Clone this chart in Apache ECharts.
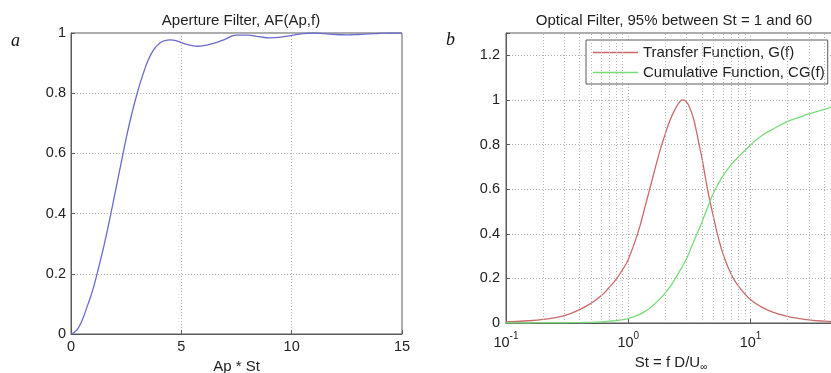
<!DOCTYPE html>
<html>
<head>
<meta charset="utf-8">
<script src="https://cdn.jsdelivr.net/npm/echarts@6/dist/echarts.min.js"></script>
<style>
  html, body { margin: 0; padding: 0; background: #fff; }
  #chart { width: 831px; height: 373px; }
</style>
</head>
<body>
<div id="chart"></div>
<script>
// Panel a: aperture filter response against Ap*St
const apSt = [0, 0.25, 0.5, 0.75, 1.0, 1.25, 1.5, 1.75, 2.0, 2.25, 2.5, 2.75, 3.0, 3.25, 3.5, 3.75,
  4.0, 4.25, 4.5, 4.75, 5.0, 5.25, 5.5, 5.75, 6.0, 6.5, 7.0, 7.5, 8.0, 8.5, 9.0, 9.5, 10, 10.5,
  11, 11.5, 12, 12.5, 13, 13.5, 14, 14.5, 15];
const apertureAF = [0, 0.012, 0.045, 0.095, 0.15, 0.22, 0.295, 0.38, 0.47, 0.56, 0.65, 0.73, 0.8,
  0.86, 0.91, 0.945, 0.965, 0.975, 0.977, 0.975, 0.968, 0.962, 0.958, 0.956, 0.958, 0.966, 0.98,
  0.993, 0.993, 0.988, 0.984, 0.986, 0.992, 0.998, 1.0, 0.998, 0.995, 0.994, 0.995, 0.997, 0.999,
  1.0, 1.0];

// Panel b: optical filter transfer and cumulative functions against Strouhal number
const strouhal = [0.1, 0.15, 0.2, 0.3, 0.4, 0.5, 0.6, 0.7, 0.8, 0.9, 1.0, 1.2, 1.4, 1.6, 1.8, 2.0,
  2.2, 2.4, 2.6, 2.8, 3.0, 3.2, 3.4, 3.6, 3.8, 4.0, 4.25, 4.5, 5.0, 5.5, 6, 7, 8, 9, 10, 12, 15,
  20, 25, 30, 40, 50];
const transferG = [0.005, 0.01, 0.016, 0.033, 0.06, 0.09, 0.122, 0.16, 0.198, 0.24, 0.285, 0.405,
  0.54, 0.66, 0.765, 0.845, 0.91, 0.955, 0.987, 1.0, 0.99, 0.962, 0.92, 0.862, 0.80, 0.74, 0.66,
  0.585, 0.47, 0.375, 0.305, 0.215, 0.164, 0.13, 0.105, 0.075, 0.05, 0.03, 0.02, 0.014, 0.008, 0.005];
const cumulativeCG = [0, 0, 0.0005, 0.001, 0.002, 0.003, 0.005, 0.008, 0.011, 0.015, 0.02, 0.035,
  0.055, 0.08, 0.106, 0.134, 0.163, 0.195, 0.228, 0.258, 0.288, 0.325, 0.36, 0.392, 0.422, 0.452,
  0.49, 0.525, 0.585, 0.628, 0.663, 0.712, 0.746, 0.773, 0.798, 0.835, 0.867, 0.903, 0.922, 0.937,
  0.958, 0.972];

// Minor decade positions for the log grid
const logMinorGrid = [0.2, 0.3, 0.4, 0.5, 0.6, 0.7, 0.8, 0.9, 2, 3, 4, 5, 6, 7, 8, 9, 20, 30, 40];

const FONT = 'Liberation Sans, Arial, sans-serif';
const TXT = '#222';
const frameColor = '#5a5a5a';
const gridLine = { show: true, lineStyle: { color: '#b4b4b4', width: 1, type: [1, 2] } };
const tickLabel = { color: TXT, fontSize: 14.5, fontFamily: FONT };
const colorG = '#cc6a6a';
const colorCG = '#78dc78';

const chart = echarts.init(document.getElementById('chart'), null, { renderer: 'canvas' });

chart.setOption({
  animation: false,
  backgroundColor: '#fff',
  textStyle: { fontFamily: FONT },
  title: [
    { text: 'Aperture Filter, AF(Ap,f)', left: 236, top: 8, textAlign: 'center',
      textStyle: { fontSize: 15, fontWeight: 'normal', color: TXT, fontFamily: FONT } },
    { text: 'Optical Filter, 95% between St = 1 and 60', left: 669, top: 8, textAlign: 'center',
      textStyle: { fontSize: 15, fontWeight: 'normal', color: TXT, fontFamily: FONT } }
  ],
  graphic: [
    { type: 'text', left: 11, top: 32,
      style: { text: 'a', font: 'italic 18px "Liberation Serif", "DejaVu Serif", serif', fill: '#111' } },
    { type: 'text', left: 446, top: 31,
      style: { text: 'b', font: 'italic 18px "Liberation Serif", "DejaVu Serif", serif', fill: '#111' } }
  ],
  legend: {
    orient: 'vertical',
    left: 586, top: 40,
    data: [
      { name: 'Transfer Function, G(f)', icon: 'rect', itemStyle: { color: colorG } },
      { name: 'Cumulative Function, CG(f)', icon: 'rect', itemStyle: { color: colorCG } }
    ],
    backgroundColor: '#fff',
    borderColor: frameColor, borderWidth: 1,
    padding: [5, 3, 4, 7],
    itemWidth: 45, itemHeight: 1.5, itemGap: 5,
    textStyle: { fontSize: 15, color: TXT, fontFamily: FONT }
  },
  grid: [
    { left: 71, right: 429, top: 33, bottom: 39, show: true, borderColor: frameColor, borderWidth: 1,
      backgroundColor: 'transparent', containLabel: false, outerBoundsMode: 'none' },
    { left: 506, right: -5, top: 33, bottom: 50, show: true, borderColor: frameColor, borderWidth: 1,
      backgroundColor: 'transparent', containLabel: false, outerBoundsMode: 'none' }
  ],
  xAxis: [
    { gridIndex: 0, type: 'value', min: 0, max: 15, interval: 5,
      axisLine: { show: true, onZero: false, lineStyle: { color: frameColor } },
      axisTick: { show: true, inside: true, length: 4, lineStyle: { color: frameColor } },
      axisLabel: Object.assign({ margin: 5 }, tickLabel),
      splitLine: gridLine,
      name: 'Ap * St', nameLocation: 'middle', nameGap: 24,
      nameTextStyle: { fontSize: 15, color: TXT, fontFamily: FONT } },
    { gridIndex: 1, type: 'log', logBase: 10, min: 0.1, max: 50,
      axisLine: { show: true, onZero: false, lineStyle: { color: frameColor } },
      axisTick: { show: true, inside: true, length: 4, lineStyle: { color: frameColor } },
      axisLabel: Object.assign({
        margin: 5,
        showMaxLabel: false,
        formatter: function (v) {
          const e = Math.log10(v);
          const r = Math.round(e);
          if (Math.abs(e - r) > 1e-6) return '';
          return '{b|10}{sup|' + r + '}';
        },
        rich: {
          b: { fontSize: 14.5, color: TXT, fontFamily: FONT, padding: [7, 0, 0, 0] },
          sup: { fontSize: 10, color: TXT, fontFamily: FONT, padding: [0, 0, 5, 0] }
        }
      }, tickLabel),
      splitLine: gridLine,
      name: 'St = f D/U{sub|∞}', nameLocation: 'middle', nameGap: 29,
      nameTextStyle: {
        fontSize: 15, color: TXT, fontFamily: FONT,
        rich: { sub: { fontSize: 10, color: TXT, fontFamily: FONT, padding: [9, 0, 0, 0] } }
      } }
  ],
  yAxis: [
    { gridIndex: 0, type: 'value', min: 0, max: 1, interval: 0.2,
      axisLine: { show: true, lineStyle: { color: frameColor } },
      axisTick: { show: true, inside: true, length: 4, lineStyle: { color: frameColor } },
      axisLabel: Object.assign({ margin: 5 }, tickLabel),
      splitLine: gridLine },
    { gridIndex: 1, type: 'value', min: 0, max: 1.3, interval: 0.2,
      axisLine: { show: true, lineStyle: { color: frameColor } },
      axisTick: { show: true, inside: true, length: 4, lineStyle: { color: frameColor } },
      axisLabel: Object.assign({
        margin: 6,
        formatter: function (v) {
          const k = Math.round(v / 0.2);
          if (Math.abs(v - k * 0.2) > 1e-6) return '';
          return String(Math.round(v * 10) / 10);
        }
      }, tickLabel),
      splitLine: gridLine }
  ],
  series: [
    { name: 'AF', type: 'line', xAxisIndex: 0, yAxisIndex: 0, symbol: 'none', smooth: 0.5,
      lineStyle: { color: '#6a6ad0', width: 1.3 },
      data: apSt.map((x, i) => [x, apertureAF[i]]) },
    { name: 'Transfer Function, G(f)', type: 'line', xAxisIndex: 1, yAxisIndex: 1, symbol: 'none',
      smooth: 0.5, color: colorG,
      lineStyle: { color: colorG, width: 1.3 },
      data: strouhal.map((x, i) => [x, transferG[i]]),
      markLine: {
        silent: true, symbol: 'none', animation: false,
        label: { show: false },
        lineStyle: { color: '#b4b4b4', width: 1, type: [1, 2] },
        emphasis: { disabled: true },
        data: logMinorGrid.map(v => ({ xAxis: v }))
      } },
    { name: 'Cumulative Function, CG(f)', type: 'line', xAxisIndex: 1, yAxisIndex: 1, symbol: 'none',
      smooth: 0.5, color: colorCG,
      lineStyle: { color: colorCG, width: 1.3 },
      data: strouhal.map((x, i) => [x, cumulativeCG[i]]) }
  ]
});
</script>
</body>
</html>
